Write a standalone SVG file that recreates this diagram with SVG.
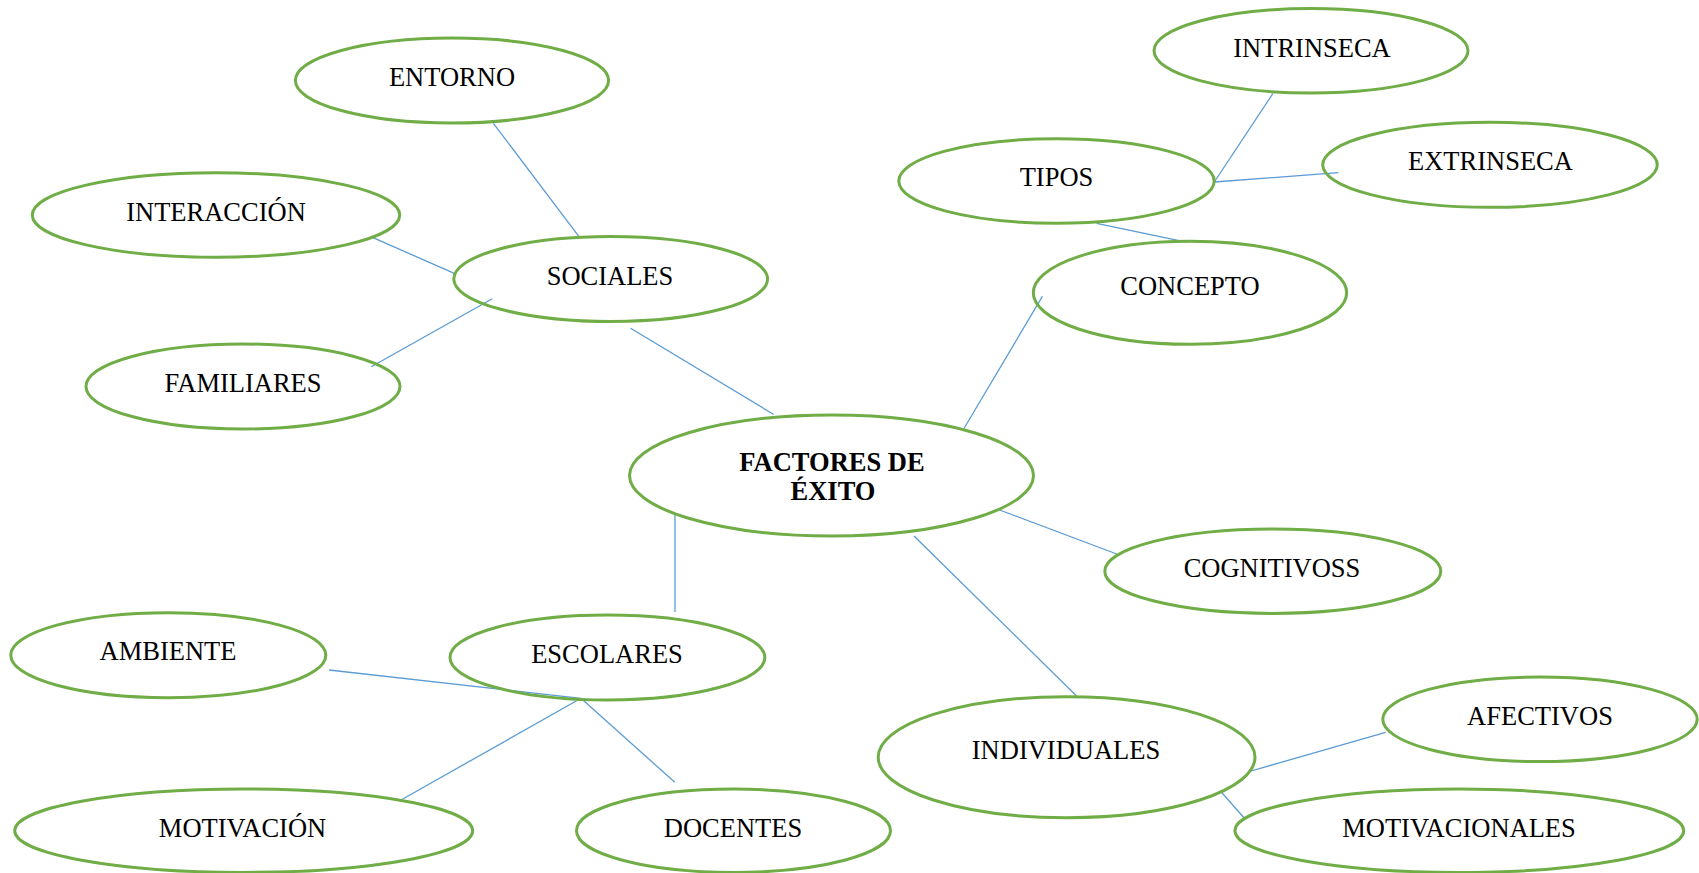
<svg xmlns="http://www.w3.org/2000/svg" width="1699" height="873" viewBox="0 0 1699 873">
<style>
.n{fill:none;stroke:#70AD47;stroke-width:3}
.t{font-family:"Liberation Serif","Times New Roman",serif;font-size:26.5px;fill:#000;text-anchor:middle}
.b{font-weight:bold}
.c line{stroke:#5B9BD5;stroke-width:1.3}
</style>
<rect width="1699" height="873" fill="#fff"/>
<g id="connectors" class="c">
<line x1="493.4" y1="123.3" x2="579" y2="236.7"/>
<line x1="373" y1="237.7" x2="454.3" y2="273.3"/>
<line x1="371.3" y1="366.7" x2="492.3" y2="298.7"/>
<line x1="630.6" y1="328.3" x2="773.8" y2="414.5"/>
<line x1="1272.8" y1="93.7" x2="1214.3" y2="182"/>
<line x1="1214.3" y1="182" x2="1338.4" y2="172.7"/>
<line x1="1096.6" y1="223.3" x2="1179" y2="240.7"/>
<line x1="1042.4" y1="296.3" x2="964" y2="428.5"/>
<line x1="675" y1="514" x2="675" y2="612"/>
<line x1="329" y1="670" x2="581" y2="698.3"/>
<line x1="401" y1="800" x2="581" y2="698.3"/>
<line x1="581" y1="698.3" x2="674.8" y2="782.3"/>
<line x1="999.6" y1="510" x2="1116.7" y2="554"/>
<line x1="914" y1="536" x2="1076.6" y2="696"/>
<line x1="1251" y1="771" x2="1385.6" y2="732.3"/>
<line x1="1221.9" y1="792.7" x2="1244" y2="817.7"/>
</g>
<g id="entorno"><ellipse class="n" cx="452" cy="80.5" rx="156.6" ry="42.5"/><text class="t" x="452" y="86">ENTORNO</text></g>
<g id="interaccion"><ellipse class="n" cx="216" cy="215" rx="183.7" ry="42.3"/><text class="t" x="216" y="221">INTERACCIÓN</text></g>
<g id="sociales"><ellipse class="n" cx="610.7" cy="279" rx="156.9" ry="42.5"/><text class="t" x="610" y="285">SOCIALES</text></g>
<g id="familiares"><ellipse class="n" cx="243" cy="386.5" rx="157" ry="42.5"/><text class="t" x="243" y="392">FAMILIARES</text></g>
<g id="intrinseca"><ellipse class="n" cx="1311" cy="50.8" rx="157" ry="42.2"/><text class="t" x="1312" y="57">INTRINSECA</text></g>
<g id="tipos"><ellipse class="n" cx="1056.5" cy="181" rx="157.7" ry="42.2"/><text class="t" x="1056.5" y="186">TIPOS</text></g>
<g id="extrinseca"><ellipse class="n" cx="1490" cy="164.8" rx="167.3" ry="42.5"/><text class="t" x="1490.5" y="170">EXTRINSECA</text></g>
<g id="concepto"><ellipse class="n" cx="1190" cy="292.8" rx="156.7" ry="51.5"/><text class="t" x="1190" y="294.5">CONCEPTO</text></g>
<g id="factores"><ellipse class="n" cx="831.5" cy="475.5" rx="202" ry="60.5"/><text class="t b" x="832" y="470.5">FACTORES DE</text><text class="t b" x="833" y="499.5">ÉXITO</text></g>
<g id="cognitivoss"><ellipse class="n" cx="1272.8" cy="571.2" rx="168" ry="42.2"/><text class="t" x="1272" y="577">COGNITIVOSS</text></g>
<g id="ambiente"><ellipse class="n" cx="168.3" cy="655.2" rx="157.5" ry="42.5"/><text class="t" x="168" y="660">AMBIENTE</text></g>
<g id="escolares"><ellipse class="n" cx="607.4" cy="657.5" rx="157.4" ry="42.5"/><text class="t" x="607" y="663">ESCOLARES</text></g>
<g id="motivacion"><ellipse class="n" cx="243.7" cy="830.7" rx="229" ry="41.7"/><text class="t" x="242.5" y="837">MOTIVACIÓN</text></g>
<g id="docentes"><ellipse class="n" cx="733.5" cy="830.7" rx="157" ry="41.7"/><text class="t" x="733" y="837">DOCENTES</text></g>
<g id="individuales"><ellipse class="n" cx="1066.6" cy="757.2" rx="188.4" ry="60.5"/><text class="t" x="1066" y="759">INDIVIDUALES</text></g>
<g id="afectivos"><ellipse class="n" cx="1540" cy="719.3" rx="157.2" ry="42.3"/><text class="t" x="1540" y="725">AFECTIVOS</text></g>
<g id="motivacionales"><ellipse class="n" cx="1459.3" cy="830.7" rx="224.4" ry="41.7"/><text class="t" x="1459" y="837">MOTIVACIONALES</text></g>
</svg>
